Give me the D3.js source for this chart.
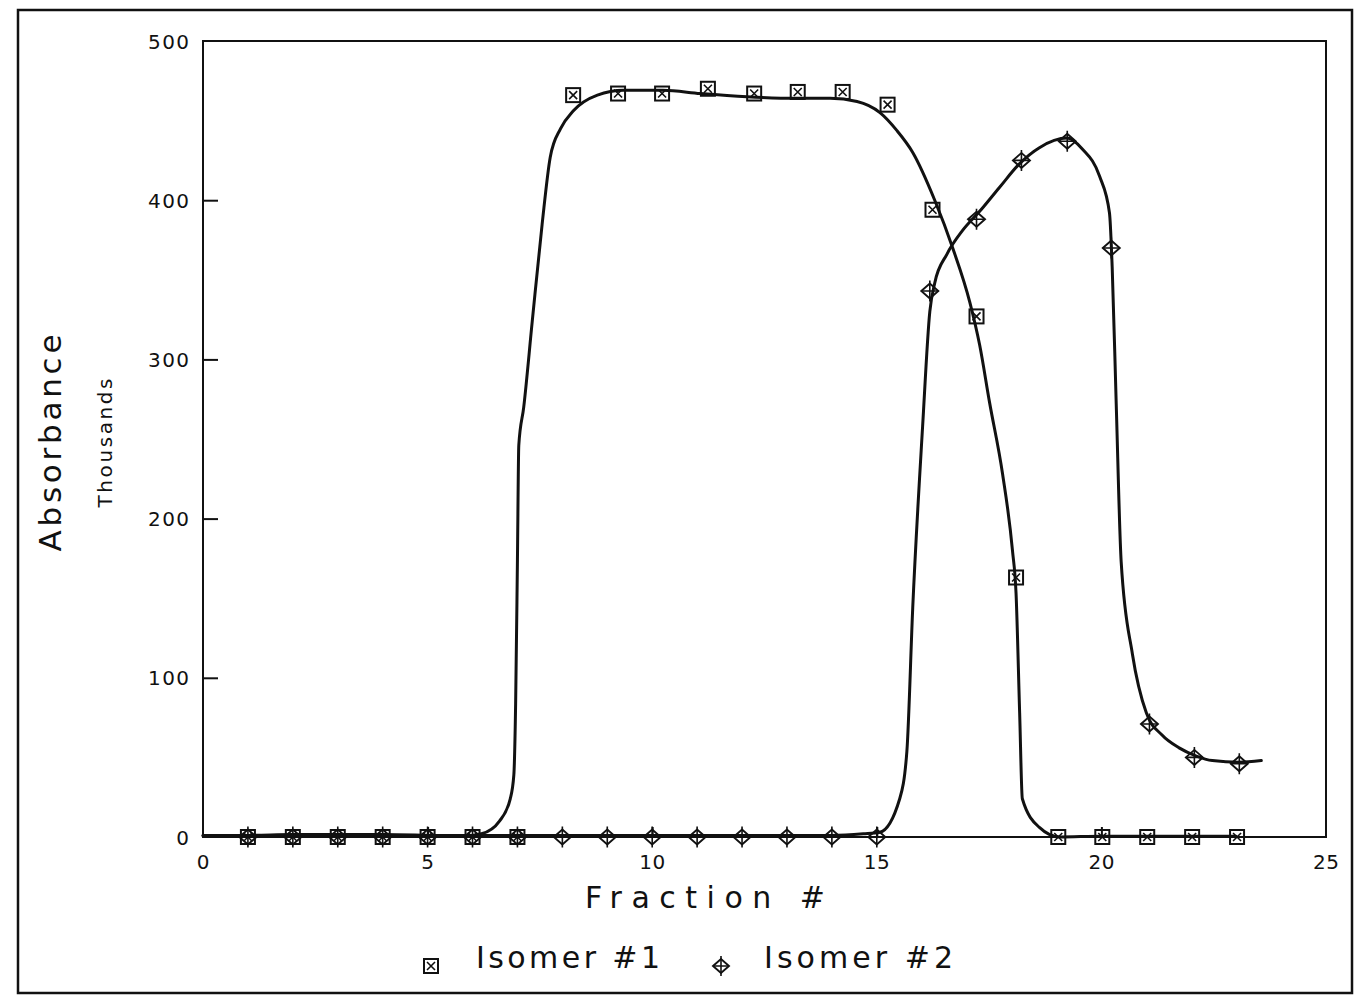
<!DOCTYPE html>
<html>
<head>
<meta charset="utf-8">
<script src="https://cdn.jsdelivr.net/npm/d3@7"></script>
<style>
  html, body { margin: 0; padding: 0; background: #fff; }
  svg { display: block; }
  text { font-family: "DejaVu Sans", "Liberation Sans", sans-serif; fill: #111; }
</style>
</head>
<body>
<svg id="chart" width="1355" height="1000"></svg>
<script>
// Measured fractions (markers)
const iso1Fraction = [1, 2, 3, 4, 5, 6, 7, 8.24, 9.24, 10.22, 11.24, 12.27, 13.24, 14.24, 15.24, 16.24, 17.22, 18.1, 19.04, 20.02, 21.02, 22.02, 23.02];
const iso1Absorb   = [0, 0, 0, 0, 0, 0, 0, 466, 467, 467, 470, 467, 468, 468, 460, 394, 327, 163, 0, 0, 0, 0, 0];

const iso2Fraction = [1, 2, 3, 4, 5, 6, 7, 8, 9, 10, 11, 12, 13, 14, 15, 16.18, 17.22, 18.22, 19.24, 20.22, 21.07, 22.07, 23.07];
const iso2Absorb   = [0, 0, 0, 0, 0, 0, 0, 0, 0, 0, 0, 0, 0, 0, 0, 343, 388, 425, 437, 370, 71, 50, 46];

// Smoothed elution profiles
const fit1Fraction = [0, 1, 2, 3, 4, 5, 5.8, 6.2, 6.6, 6.84, 6.92, 6.96, 7.0, 7.03, 7.14, 7.33, 7.55, 7.73, 7.96, 8.24, 8.78, 9.36, 10.24, 11.07, 12.11, 13.2, 13.96, 14.56, 15.07, 15.44, 15.8, 16.29, 16.69, 17.07, 17.29, 17.51, 17.8, 18.02, 18.1, 18.18, 18.24, 18.62, 19.07, 20, 21, 22, 23];
const fit1Absorb   = [1, 1, 1.5, 1.5, 1.5, 1, 0.5, 2, 10, 24, 39, 84, 174, 246, 270, 324, 385, 427, 445, 456, 466, 469, 469, 467, 465, 464, 464, 462, 455, 444, 430, 400, 370, 336, 309, 273, 228, 180, 153, 78, 24, 6, 0, 0.5, 0.5, 0.5, 0.5];

const fit2Fraction = [0, 5, 10, 14, 14.7, 15.07, 15.51, 15.67, 15.8, 16.02, 16.18, 16.29, 16.56, 16.91, 17.29, 17.73, 18.18, 18.62, 19.24, 19.58, 19.96, 20.18, 20.24, 20.33, 20.44, 20.69, 21.0, 21.35, 21.73, 22.1, 22.47, 23.07, 23.56];
const fit2Absorb   = [1, 1, 1, 1, 2, 3, 24, 54, 144, 258, 330, 348, 366, 381, 393, 408, 423, 433, 439, 432, 415, 392, 358, 272, 173, 115, 78, 64, 56, 51, 48, 47, 48];

const fractionTicks = [0, 5, 10, 15, 20, 25];
const absorbTicks = [0, 100, 200, 300, 400, 500];
const seriesNames = ["Isomer #1", "Isomer #2"];

const svg = d3.select("#chart");

const x = d3.scaleLinear().domain([0, 25]).range([203, 1326]);
const y = d3.scaleLinear().domain([0, 500]).range([837, 41]);

// Outer page frame
svg.append("rect")
  .attr("x", 18).attr("y", 10).attr("width", 1334).attr("height", 983)
  .attr("fill", "none").attr("stroke", "#111").attr("stroke-width", 2.5);

// Plot frame
svg.append("rect")
  .attr("x", x(0)).attr("y", y(500))
  .attr("width", x(25) - x(0)).attr("height", y(0) - y(500))
  .attr("fill", "none").attr("stroke", "#111").attr("stroke-width", 2);

// Y axis: inward ticks, labels on the left
const yAxis = d3.axisRight(y).tickValues(absorbTicks.slice(1, -1)).tickSize(15).tickFormat("");
svg.append("g").attr("transform", `translate(${x(0)},0)`).call(yAxis)
  .call(g => g.select(".domain").remove())
  .call(g => g.selectAll("line").attr("stroke", "#111").attr("stroke-width", 2));

svg.append("g").selectAll("text").data(absorbTicks).join("text")
  .attr("x", 189).attr("y", d => y(d) + 7.5)
  .attr("text-anchor", "end")
  .attr("font-size", 20)
  .attr("textLength", d => String(d).length * 14 - 1)
  .attr("lengthAdjust", "spacing")
  .text(d => d);

// X axis: inward ticks, labels below
const xAxis = d3.axisTop(x).tickValues(fractionTicks.slice(1, -1)).tickSize(10).tickFormat("");
svg.append("g").attr("transform", `translate(0,${y(0)})`).call(xAxis)
  .call(g => g.select(".domain").remove())
  .call(g => g.selectAll("line").attr("stroke", "#111").attr("stroke-width", 2));

svg.append("g").selectAll("text").data(fractionTicks).join("text")
  .attr("x", d => x(d)).attr("y", 869)
  .attr("text-anchor", "middle")
  .attr("font-size", 20)
  .attr("textLength", d => String(d).length * 13)
  .attr("lengthAdjust", "spacing")
  .text(d => d);

// Axis titles
svg.append("text")
  .attr("x", 705).attr("y", 908)
  .attr("text-anchor", "middle")
  .attr("font-size", 30)
  .attr("textLength", 240).attr("lengthAdjust", "spacing")
  .text("Fraction #");

svg.append("text")
  .attr("transform", "translate(61,443) rotate(-90)")
  .attr("text-anchor", "middle")
  .attr("font-size", 31)
  .attr("textLength", 217).attr("lengthAdjust", "spacing")
  .text("Absorbance");

svg.append("text")
  .attr("transform", "translate(112,443) rotate(-90)")
  .attr("text-anchor", "middle")
  .attr("font-size", 20)
  .attr("textLength", 129).attr("lengthAdjust", "spacing")
  .text("Thousands");

// Smoothed curves
const line = d3.line().x(d => x(d[0])).y(d => y(d[1])).curve(d3.curveMonotoneX);
const fit1 = d3.zip(fit1Fraction, fit1Absorb);
const fit2 = d3.zip(fit2Fraction, fit2Absorb);

svg.append("path").datum(fit1).attr("d", line)
  .attr("fill", "none").attr("stroke", "#111").attr("stroke-width", 3)
  .attr("stroke-linejoin", "round").attr("stroke-linecap", "round");
svg.append("path").datum(fit2).attr("d", line)
  .attr("fill", "none").attr("stroke", "#111").attr("stroke-width", 3)
  .attr("stroke-linejoin", "round").attr("stroke-linecap", "round");

// Marker glyphs
function squareMarker(g, s) {
  const h = s / 2;
  g.append("rect").attr("x", -h).attr("y", -h).attr("width", s).attr("height", s)
    .attr("fill", "none").attr("stroke", "#111").attr("stroke-width", 2);
  g.append("path").attr("d", `M${-h + 3},${-h + 3}L${h - 3},${h - 3}M${h - 3},${-h + 3}L${-h + 3},${h - 3}`)
    .attr("stroke", "#111").attr("stroke-width", 1.6);
}
function diamondMarker(g, w, hgt) {
  const a = w / 2, b = hgt / 2;
  g.append("path").attr("d", `M${-a},0L0,${-b}L${a},0L0,${b}Z`)
    .attr("fill", "none").attr("stroke", "#111").attr("stroke-width", 1.9);
  g.append("path").attr("d", `M${-a},0L${a},0M0,${-b - 3}L0,${b + 3}`)
    .attr("stroke", "#111").attr("stroke-width", 1.6);
}

const iso2Pts = d3.zip(iso2Fraction, iso2Absorb);
svg.append("g").selectAll("g").data(iso2Pts).join("g")
  .attr("transform", d => `translate(${x(d[0])},${y(d[1])})`)
  .each(function () { diamondMarker(d3.select(this), 17, 15); });

const iso1Pts = d3.zip(iso1Fraction, iso1Absorb);
svg.append("g").selectAll("g").data(iso1Pts).join("g")
  .attr("transform", d => `translate(${x(d[0])},${y(d[1])})`)
  .each(function () { squareMarker(d3.select(this), 14); });

// Legend
const legend = svg.append("g");
const l1 = legend.append("g").attr("transform", "translate(431,966)");
squareMarker(l1, 14);
legend.append("text").attr("x", 476).attr("y", 968).attr("font-size", 30)
  .attr("textLength", 184).attr("lengthAdjust", "spacing").text(seriesNames[0]);
const l2 = legend.append("g").attr("transform", "translate(721,966)");
diamondMarker(l2, 16, 14);
legend.append("text").attr("x", 764).attr("y", 968).attr("font-size", 30)
  .attr("textLength", 189).attr("lengthAdjust", "spacing").text(seriesNames[1]);
</script>
</body>
</html>
